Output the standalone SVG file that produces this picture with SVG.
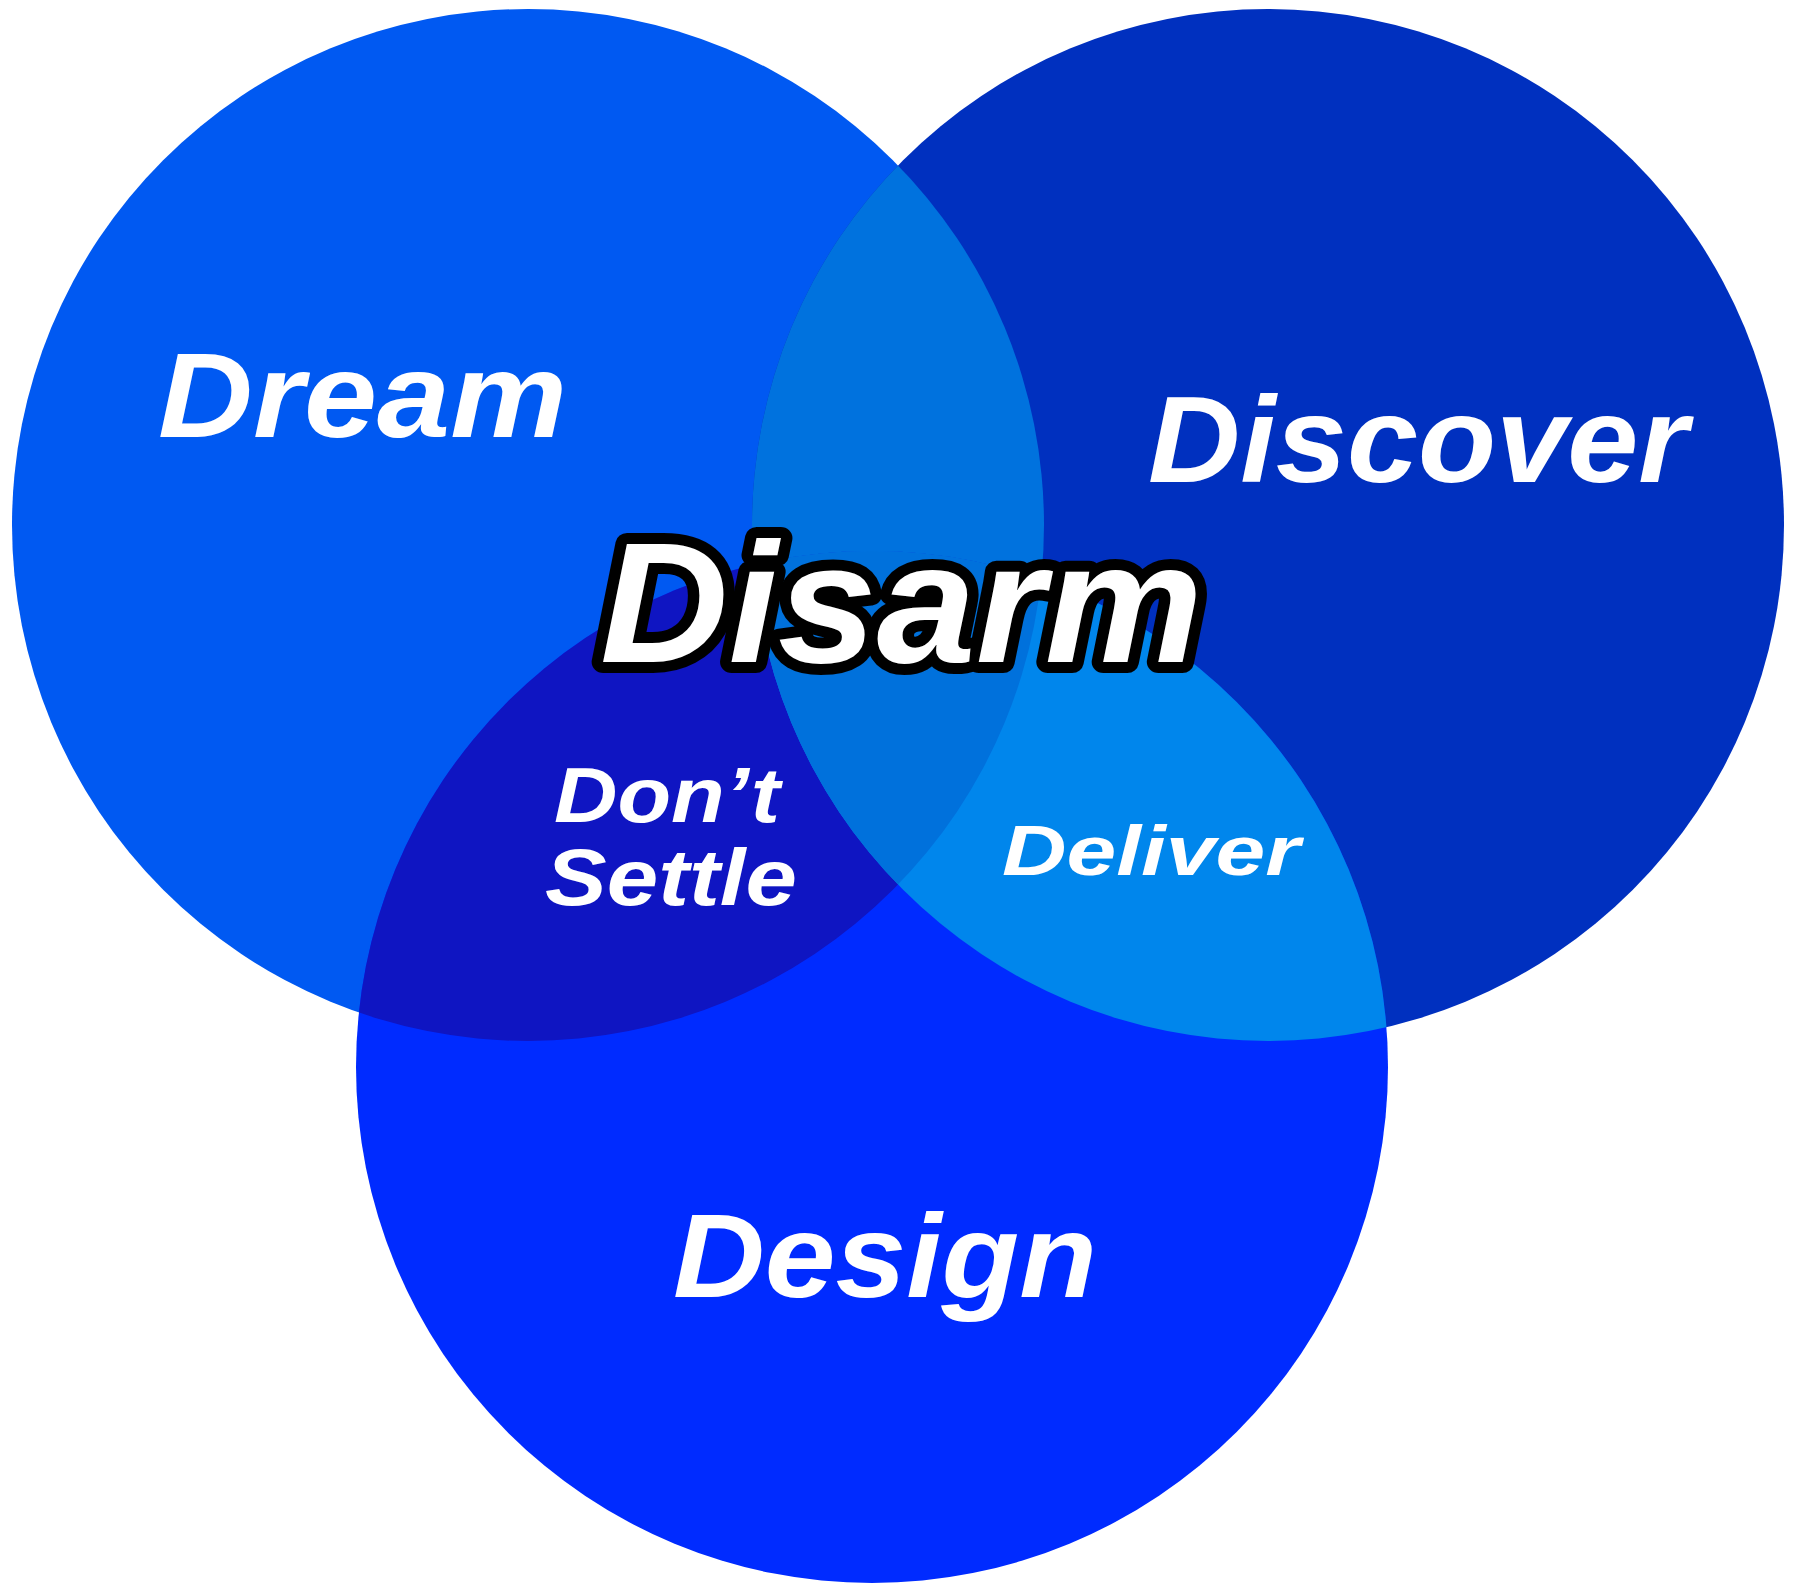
<svg xmlns="http://www.w3.org/2000/svg" width="1800" height="1596" viewBox="0 0 1800 1596">
<style>
  .lbl { font-family: "Liberation Sans", Arial, sans-serif; font-weight: bold; font-style: italic; fill: #ffffff; }
  .big { stroke: #000000; stroke-width: 22; stroke-linejoin: round; paint-order: stroke fill; }
</style>
<defs>
  <clipPath id="clipDream"><circle cx="528" cy="525" r="516"/></clipPath>
  <clipPath id="clipDiscover"><circle cx="1268" cy="525" r="516"/></clipPath>
</defs>
<rect x="0" y="0" width="1800" height="1596" fill="#ffffff"/>
<g id="circles">
  <circle id="c-dream" cx="528" cy="525" r="516" fill="#0059F2"/>
  <circle id="c-discover" cx="1268" cy="525" r="516" fill="#0030BF"/>
  <circle id="c-design" cx="872" cy="1067" r="516" fill="#002BFF"/>
</g>
<g id="overlaps">
  <circle id="dream-discover" cx="1268" cy="525" r="516" fill="#0072DE" clip-path="url(#clipDream)"/>
  <circle id="dream-design" cx="872" cy="1067" r="516" fill="#0F15C2" clip-path="url(#clipDream)"/>
  <circle id="discover-design" cx="872" cy="1067" r="516" fill="#0086EC" clip-path="url(#clipDiscover)"/>
  <g clip-path="url(#clipDream)">
    <circle id="all-three" cx="872" cy="1067" r="516" fill="#0071DC" clip-path="url(#clipDiscover)"/>
  </g>
</g>
<g id="dream"><text class="lbl" x="158" y="437" font-size="120" textLength="409" lengthAdjust="spacingAndGlyphs">Dream</text></g>
<g id="discover"><text class="lbl" x="1148" y="482" font-size="122" textLength="540" lengthAdjust="spacingAndGlyphs">Discover</text></g>
<g id="design"><text class="lbl" x="673" y="1297" font-size="118" textLength="424" lengthAdjust="spacingAndGlyphs">Design</text></g>
<g id="dont-settle">
  <text class="lbl" x="554" y="822" font-size="78" textLength="226" lengthAdjust="spacingAndGlyphs">Don’t</text>
  <text class="lbl" x="545" y="905" font-size="80" textLength="252" lengthAdjust="spacingAndGlyphs">Settle</text>
</g>
<g id="deliver"><text class="lbl" x="1002" y="875" font-size="70" textLength="298" lengthAdjust="spacingAndGlyphs">Deliver</text></g>
<g id="disarm"><text class="lbl big" x="600" y="662" font-size="170" textLength="603" lengthAdjust="spacingAndGlyphs">Disarm</text></g>
</svg>
